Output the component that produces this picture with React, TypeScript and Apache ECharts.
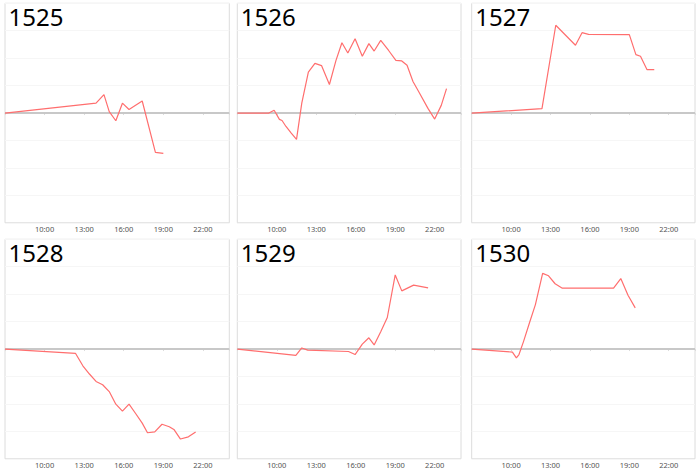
import React, { useEffect, useRef } from "react";
import * as echarts from "echarts";

const panelNames = ["1525", "1526", "1527", "1528", "1529", "1530"];
const tickLabels = ["10:00", "13:00", "16:00", "19:00", "22:00"];
const tickHours = [10, 13, 16, 19, 22];

const t1525 = [7.0, 13.9, 14.5, 14.9, 15.4, 15.9, 16.4, 17.4, 18.4, 19.0];
const v1525 = [0, 0.36, 0.67, 0.05, -0.28, 0.36, 0.13, 0.44, -1.43, -1.47];

const t1526 = [7.0, 9.4, 9.8, 10.2, 10.4, 10.7, 11.1, 11.5, 11.9, 12.4, 12.9, 13.4, 14.0, 14.5, 14.95, 15.4, 15.95, 16.5, 17.0, 17.4, 17.9, 18.5, 19.05, 19.5, 19.9, 20.35, 20.8, 21.5, 22.0, 22.5, 22.9];
const v1526 = [0, 0, 0.1, -0.23, -0.27, -0.49, -0.73, -0.96, 0.36, 1.49, 1.81, 1.73, 1.04, 1.92, 2.56, 2.19, 2.71, 2.07, 2.53, 2.26, 2.65, 2.28, 1.92, 1.9, 1.74, 1.15, 0.77, 0.16, -0.22, 0.28, 0.89];

const t1527 = [7.0, 12.35, 13.4, 14.9, 15.4, 15.9, 19.0, 19.5, 19.85, 20.35, 20.9];
const v1527 = [0, 0.16, 3.2, 2.47, 2.93, 2.87, 2.86, 2.13, 2.07, 1.58, 1.58];

const t1528 = [7.0, 12.35, 12.9, 13.4, 13.9, 14.4, 14.9, 15.4, 15.9, 16.4, 16.9, 17.4, 17.8, 18.35, 18.9, 19.45, 19.8, 20.3, 20.9, 21.45];
const v1528 = [0, -0.16, -0.61, -0.91, -1.18, -1.3, -1.55, -2.01, -2.26, -2.01, -2.35, -2.7, -3.05, -3.02, -2.74, -2.83, -2.93, -3.28, -3.2, -3.02];

const t1529 = [7.0, 11.45, 11.9, 12.35, 15.45, 15.95, 16.5, 17.0, 17.4, 17.9, 18.4, 19.0, 19.5, 20.4, 21.5];
const v1529 = [0, -0.23, 0.04, -0.04, -0.09, -0.2, 0.18, 0.41, 0.15, 0.63, 1.15, 2.7, 2.12, 2.33, 2.23];

const t1530 = [7.0, 10.1, 10.4, 10.6, 10.95, 11.4, 11.85, 12.4, 12.85, 13.35, 13.9, 17.8, 18.35, 18.9, 19.45];
const v1530 = [0, -0.11, -0.32, -0.2, 0.28, 0.96, 1.62, 2.76, 2.67, 2.38, 2.22, 2.22, 2.57, 1.96, 1.5];

const panelTimes = [t1525, t1526, t1527, t1528, t1529, t1530];
const panelValues = [v1525, v1526, v1527, v1528, v1529, v1530];

const colLefts = [5, 237.3, 471.7];
const colWidths = [224.3, 223.7, 223.3];
const rowTops = [3.3, 239.3];
const rowHeight = 219.5;

export default function App() {
  const ref = useRef<HTMLDivElement>(null);
  useEffect(() => {
    if (!ref.current) return;
    const chart = echarts.init(ref.current, null, { renderer: "svg" });
    const grids: any[] = [];
    const xAxes: any[] = [];
    const yAxes: any[] = [];
    const series: any[] = [];
    const titles: any[] = [];
    panelNames.forEach((name, i) => {
      const col = i % 3;
      const row = Math.floor(i / 3);
      grids.push({
        left: colLefts[col],
        top: rowTops[row],
        width: colWidths[col],
        height: rowHeight,
        show: true,
        borderColor: "#dcdcdc",
        borderWidth: 1,
        backgroundColor: "#fff",
      });
      xAxes.push({
        type: "value",
        gridIndex: i,
        min: 7,
        max: 24,
        interval: 3,
        axisLine: { show: true, lineStyle: { color: "#dcdcdc" } },
        axisTick: { show: true, length: 2, lineStyle: { color: "#dcdcdc" } },
        splitLine: { show: false },
        axisLabel: {
          fontSize: 7.5,
          color: "#555",
          margin: 2,
          fontFamily: "Noto Sans",
          formatter: (v: number) => {
            const k = tickHours.indexOf(v);
            return k >= 0 ? tickLabels[k] : "";
          },
        },
      });
      yAxes.push({
        type: "value",
        gridIndex: i,
        min: -4,
        max: 4,
        interval: 1,
        axisLine: { show: false },
        axisTick: { show: false },
        axisLabel: { show: false },
        splitLine: { show: true, lineStyle: { color: "#f6f6f6", width: 1 } },
      });
      const ts = panelTimes[i];
      const vs = panelValues[i];
      series.push({
        type: "line",
        xAxisIndex: i,
        yAxisIndex: i,
        data: ts.map((t, j) => [t, vs[j]]),
        showSymbol: false,
        symbol: "none",
        lineStyle: { color: "#ff6e6e", width: 1.2 },
        itemStyle: { color: "#ff6e6e" },
        silent: true,
        z: 3,
        markLine: {
          silent: true,
          symbol: "none",
          label: { show: false },
          lineStyle: { color: "#c8c8c8", width: 2, type: "solid" },
          data: [{ yAxis: 0 }],
          z: 2,
        },
      });
      titles.push({
        text: name,
        left: colLefts[col] + 3.5,
        top: rowTops[row] + 1.5,
        padding: 0,
        textStyle: {
          fontSize: 24,
          fontWeight: "normal",
          color: "#000",
          fontFamily: "Noto Sans",
        },
      });
    });
    chart.setOption({
      animation: false,
      backgroundColor: "#fff",
      title: titles,
      grid: grids,
      xAxis: xAxes,
      yAxis: yAxes,
      series,
    });
    return () => chart.dispose();
  }, []);
  return (
    <div
      ref={ref}
      style={{ position: "fixed", left: 0, top: 0, width: 700, height: 473 }}
    />
  );
}
